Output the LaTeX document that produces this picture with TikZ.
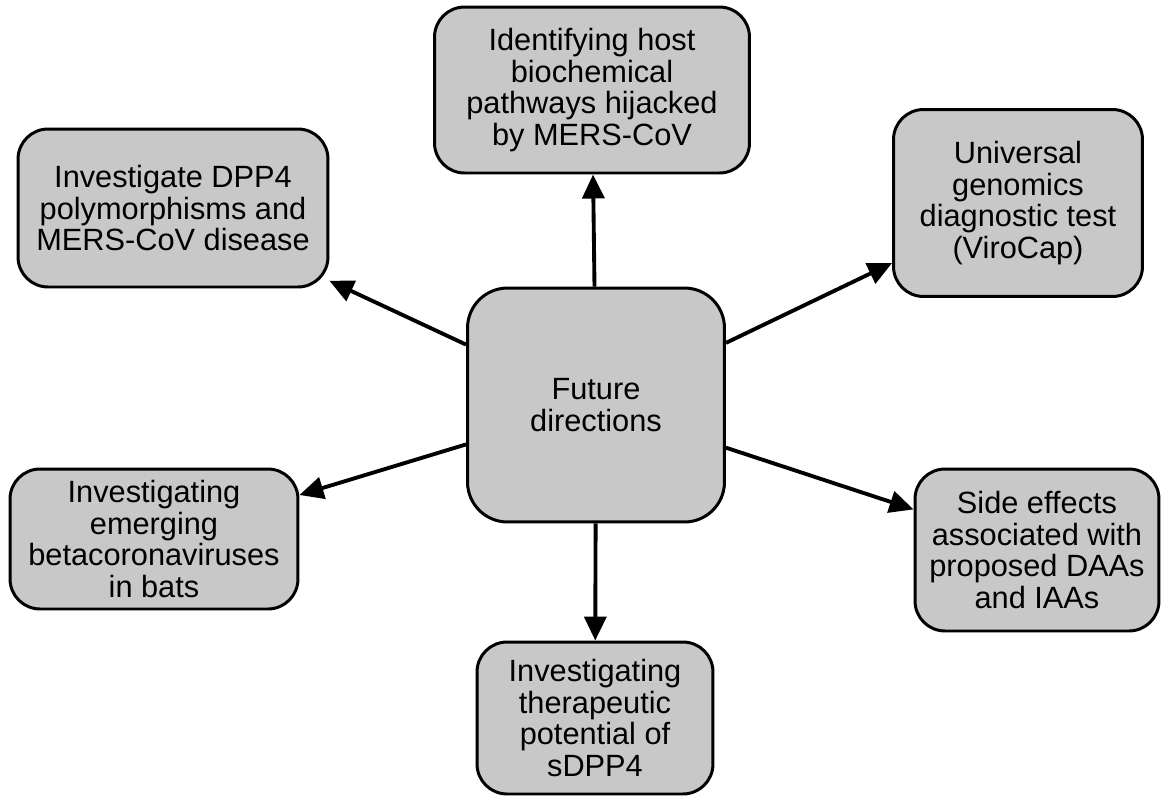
\documentclass[tikz,border=0pt]{standalone}
\usepackage{fontspec}
\setmainfont{Liberation Sans}
\usetikzlibrary{arrows.meta}

\definecolor{boxgray}{RGB}{200,200,200}

\begin{document}
\begin{tikzpicture}[x=0.02cm, y=-0.02cm,
	box/.style={draw, line width=1.7pt, fill=boxgray, rounded corners=0.6cm,
		align=center, inner sep=0pt, font=\fontsize{17.5}{18}\selectfont},
	pfeil/.style={line width=2.2pt, -{Triangle[length=0.48cm, width=0.44cm]}}]
	\useasboundingbox (0,0) rectangle (1161,796);
	
	%Mitte
	\node[box, rounded corners=0.8cm, minimum width=5.14cm, minimum height=4.68cm] (mitte) at (596,405) {Future\\directions};
	
	%Aussen
	\node[box, minimum width=6.3cm, minimum height=3.32cm] (oben) at (592,90) {Identifying host\\biochemical\\pathways hijacked\\by MERS-CoV};
	\node[box, minimum width=6.2cm, minimum height=3.16cm] (linksoben) at (173,208) {Investigate DPP4\\polymorphisms and\\MERS-CoV disease};
	\node[box, minimum width=4.98cm, minimum height=3.74cm] (rechtsoben) at (1018,203) {Universal\\genomics\\diagnostic test\\(ViroCap)};
	\node[box, minimum width=5.76cm, minimum height=2.8cm] (linksunten) at (154,539) {Investigating\\emerging\\betacoronaviruses\\in bats};
	\node[box, minimum width=4.88cm, minimum height=3.24cm] (rechtsunten) at (1037,550) {Side effects\\associated with\\proposed DAAs\\and IAAs};
	\node[box, minimum width=4.72cm, minimum height=3.04cm] (unten) at (595,718) {Investigating\\therapeutic\\potential of\\sDPP4};
	
	%Pfeile
	\foreach \ziel in {oben, linksoben, rechtsoben, linksunten, rechtsunten, unten}
		\draw[pfeil] (mitte) -- (\ziel);
	
\end{tikzpicture}
\end{document}
